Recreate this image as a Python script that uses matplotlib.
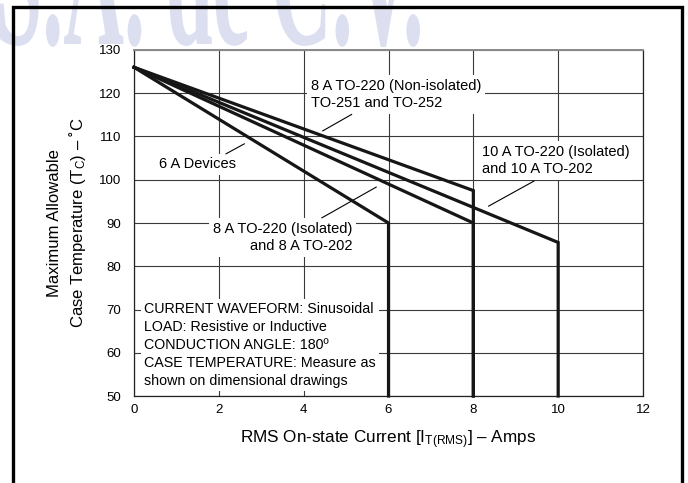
import matplotlib
matplotlib.use("Agg")
import matplotlib.pyplot as plt
from matplotlib.patches import Rectangle, PathPatch
from matplotlib.textpath import TextPath
from matplotlib.font_manager import FontProperties
from matplotlib.transforms import Affine2D

plt.rcParams['font.family'] = ['Liberation Sans', 'DejaVu Sans']
plt.rcParams['mathtext.fontset'] = 'custom'
plt.rcParams['mathtext.rm'] = 'Liberation Sans'
plt.rcParams['mathtext.it'] = 'Liberation Sans'

# derating curves: (current, case temperature) corner points
i_6a = [0, 6, 6]
tc_6a = [126, 90, 50]
i_8a_iso = [0, 8, 8]
tc_8a_iso = [126, 90, 50]
i_8a_noniso = [0, 8, 8]
tc_8a_noniso = [126, 97.5, 50]
i_10a = [0, 10, 10]
tc_10a = [126, 85.5, 50]

x_ticks = [0, 2, 4, 6, 8, 10, 12]
y_ticks = [50, 60, 70, 80, 90, 100, 110, 120, 130]

fig = plt.figure(figsize=(6.88, 4.83), dpi=100)

# faint company watermark, tall letters running off the top edge
wm = TextPath((0, 0), "S.A. de C.V.", size=100,
              prop=FontProperties(family='Liberation Serif', weight='bold'))
ext = wm.get_extents()
sx = 420 / ext.width
wm_patch = PathPatch(wm, fc='#dcdff0', ec='none', zorder=0)
wm_patch.set_transform(Affine2D().translate(-ext.x0, 0).scale(sx, sx * 2.4)
                       .translate(0, 439))
fig.patches.append(wm_patch)

# outer frame of the page
fig.patches.append(Rectangle((13 / 688, -0.05), (682 - 13) / 688, 1.05 - 7 / 483,
                             transform=fig.transFigure, fill=False,
                             edgecolor='black', lw=2.4, zorder=1))

ax = fig.add_axes([0.1948, 0.1801, 0.7398, 0.7164])
ax.set_xlim(0, 12)
ax.set_ylim(50, 130)
ax.set_xticks(x_ticks)
ax.set_yticks(y_ticks)
ax.tick_params(length=0, labelsize=9.5)
ax.tick_params(axis='x', pad=6)
ax.tick_params(axis='y', pad=9)
ax.grid(True, color='#3a3a3a', lw=0.8, zorder=0)
ax.set_axisbelow(True)
for s in ax.spines.values():
    s.set_color('#222222')
    s.set_linewidth(0.9)
ax.spines['top'].set_color('#8a8a8a')
ax.spines['top'].set_linewidth(1.4)

for xs, ys in [(i_6a, tc_6a), (i_8a_iso, tc_8a_iso),
               (i_8a_noniso, tc_8a_noniso), (i_10a, tc_10a)]:
    ax.plot(xs, ys, color='#161616', lw=2.3, solid_joinstyle='miter',
            zorder=5, clip_on=False)

box = dict(boxstyle='square,pad=0.25', fc='white', ec='none')
fs = 10.5
ls = 1.3

ax.text(4.17, 119.75, "8 A TO-220 (Non-isolated)\nTO-251 and TO-252",
        fontsize=fs, ha='left', va='center', bbox=box, zorder=3,
        linespacing=ls)
ax.plot([4.45, 5.13], [111.3, 115.1], color='black', lw=0.8, zorder=4)

ax.text(0.6, 103.6, "6 A Devices", fontsize=fs, ha='left', va='center',
        bbox=box, zorder=3)
ax.plot([2.17, 2.6], [106.0, 108.3], color='black', lw=0.8, zorder=4)

ax.text(5.14, 86.65, "8 A TO-220 (Isolated)\nand 8 A TO-202", fontsize=fs,
        ha='right', va='center', multialignment='right', bbox=box, zorder=3,
        linespacing=ls)
ax.plot([4.43, 5.71], [91.2, 98.3], color='black', lw=0.8, zorder=4)

ax.text(8.2, 104.5, "10 A TO-220 (Isolated)\nand 10 A TO-202", fontsize=fs,
        ha='left', va='center', bbox=box, zorder=3, linespacing=ls)
ax.plot([8.36, 9.43], [93.9, 99.7], color='black', lw=0.8, zorder=4)

note = ("CURRENT WAVEFORM: Sinusoidal\nLOAD: Resistive or Inductive\n"
        "CONDUCTION ANGLE: 180º\nCASE TEMPERATURE: Measure as\n"
        "shown on dimensional drawings")
ax.text(0.24, 61.8, note, fontsize=10.3, ha='left', va='center',
        bbox=dict(boxstyle='square,pad=0.2', fc='white', ec='none'),
        zorder=3, linespacing=1.38)

ax.set_xlabel(r"RMS On-state Current [I$_{\mathrm{T(RMS)}}$] – Amps",
              fontsize=12.3, labelpad=9)
ax.set_ylabel("Maximum Allowable\nCase Temperature (T$_{\\mathrm{C}}$) – ˚C",
              fontsize=12, linespacing=1.35)
ax.yaxis.set_label_coords(-0.090, 0.5)

fig.savefig("out.png", dpi=100)
